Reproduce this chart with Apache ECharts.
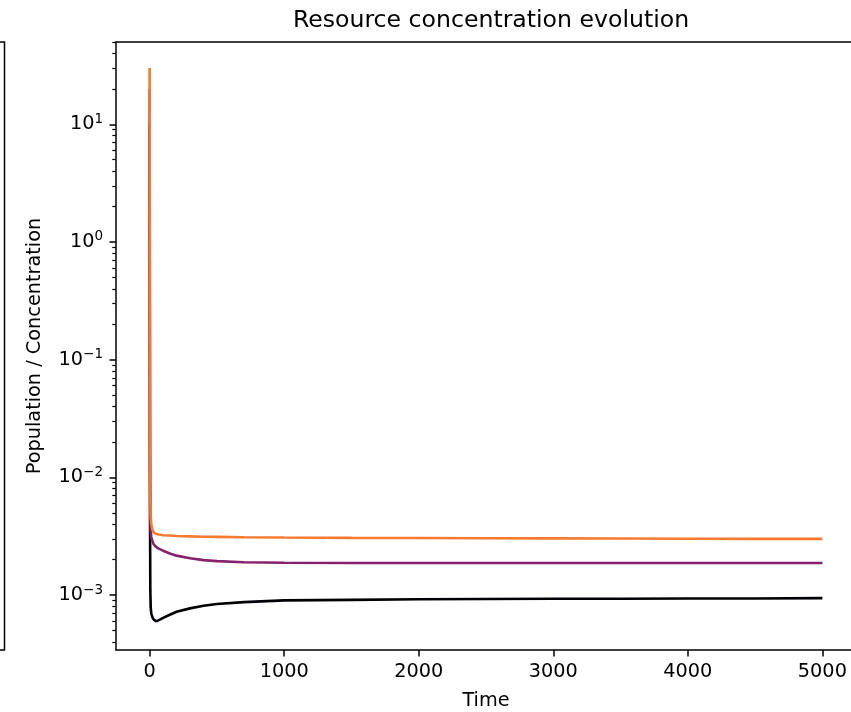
<!DOCTYPE html>
<html>
<head>
<meta charset="utf-8">
<script src="https://cdn.jsdelivr.net/npm/echarts@6/dist/echarts.min.js"></script>
<style>
html,body{margin:0;padding:0;background:#fff;}
#chart{width:851px;height:712px;}
</style>
</head>
<body>
<div id="chart"></div>
<script>
// ---- data ----
var time = [0, 0.5, 1, 2, 3, 5, 8, 12, 20, 30, 45, 60, 80, 100, 150, 200, 300, 400, 500, 700, 1000, 1500, 2000, 2500, 3000, 3500, 4000, 4500, 5000];
var resourceBlack = [10, 2, 0.3, 0.02, 0.004, 0.0011, 0.00078, 0.0007, 0.00065, 0.00062, 0.0006, 0.000605, 0.00062, 0.00064, 0.00068, 0.00072, 0.00077, 0.00081, 0.00084, 0.00087, 0.0009, 0.00091, 0.00092, 0.000925, 0.00093, 0.00093, 0.000935, 0.000935, 0.00094];
var resourcePurple = [20, 5, 1, 0.05, 0.01, 0.0045, 0.0035, 0.0031, 0.0029, 0.0027, 0.00258, 0.0025, 0.00244, 0.00238, 0.00225, 0.00216, 0.00205, 0.00198, 0.00194, 0.0019, 0.00188, 0.00187, 0.00187, 0.00187, 0.00187, 0.00187, 0.00187, 0.00187, 0.00187];
var resourceOrange = [30, 8, 1.5, 0.08, 0.015, 0.0065, 0.0047, 0.004, 0.0036, 0.0034, 0.00332, 0.00328, 0.00325, 0.00322, 0.0032, 0.00317, 0.00315, 0.00313, 0.00312, 0.0031, 0.00308, 0.00306, 0.00305, 0.00304, 0.00303, 0.00302, 0.00301, 0.003, 0.003];
var xTicks = [0, 1000, 2000, 3000, 4000, 5000];
var yMajorTicks = [0.001, 0.01, 0.1, 1, 10];
var yMinorTicks = [0.0004, 0.0005, 0.0006, 0.0007, 0.0008, 0.0009,
  0.002, 0.003, 0.004, 0.005, 0.006, 0.007, 0.008, 0.009,
  0.02, 0.03, 0.04, 0.05, 0.06, 0.07, 0.08, 0.09,
  0.2, 0.3, 0.4, 0.5, 0.6, 0.7, 0.8, 0.9,
  2, 3, 4, 5, 6, 7, 8, 9,
  20, 30, 40, 50];
var seriesNames = ['Resource 1', 'Resource 2', 'Resource 3'];
var seriesColors = ['#000004', '#86226c', '#f47b2f'];

function pairs(vals) { return time.map(function (t, i) { return [t, vals[i]]; }); }

var FONT = 'DejaVu Sans';
var FS = 19.3;
var YMIN = 3.41e-4, YMAX = 50;

var chart = echarts.init(document.getElementById('chart'), null, {renderer: 'canvas'});

function supFmt(v) {
  var e = Math.round(Math.log10(v));
  var s = e < 0 ? '\u2212' + (-e) : String(e);
  return '{b|10}{e|' + s + '}';
}

var option = {
  animation: false,
  backgroundColor: '#ffffff',
  title: {
    text: 'Resource concentration evolution',
    left: 486, top: 4, textAlign: 'center',
    textStyle: {fontFamily: FONT, fontSize: 23.6, fontWeight: 'normal', color: '#000'}
  },
  grid: {left: 116, top: 42, width: 740, height: 608, show: false, containLabel: false, outerBoundsMode: 'none'},
  xAxis: [{
    type: 'value', min: -250, max: 5250, position: 'bottom',
    name: 'Time', nameLocation: 'middle', nameGap: 41,
    nameTextStyle: {fontFamily: FONT, fontSize: FS, color: '#000'},
    axisLine: {show: true, onZero: false, lineStyle: {color: '#000', width: 1.5}},
    axisTick: {show: true, length: 6.5, lineStyle: {color: '#000', width: 1.5}, customValues: xTicks},
    axisLabel: {fontFamily: FONT, fontSize: FS, color: '#000', margin: 12, customValues: xTicks,
      formatter: function (v) { return String(v); }},
    splitLine: {show: false}
  }, {
    type: 'value', min: -250, max: 5250, position: 'top',
    axisLine: {show: true, onZero: false, lineStyle: {color: '#000', width: 1.5}},
    axisTick: {show: false}, axisLabel: {show: false}, splitLine: {show: false}
  }],
  yAxis: [{
    type: 'log', logBase: 10, min: YMIN, max: YMAX, position: 'left',
    name: 'Population / Concentration', nameLocation: 'middle', nameGap: 72, nameRotate: 90,
    nameTextStyle: {fontFamily: FONT, fontSize: FS, color: '#000'},
    axisLine: {show: true, onZero: false, lineStyle: {color: '#000', width: 1.5}},
    axisTick: {show: true, length: 6.5, lineStyle: {color: '#000', width: 1.5}, customValues: yMajorTicks},
    axisLabel: {
      color: '#000', margin: 13, customValues: yMajorTicks, formatter: supFmt,
      rich: {
        b: {fontFamily: FONT, fontSize: FS, color: '#000'},
        e: {fontFamily: FONT, fontSize: 13.5, color: '#000', padding: [0, 0, 10, 0]}
      }
    },
    splitLine: {show: false}
  }, {
    type: 'log', logBase: 10, min: YMIN, max: YMAX, position: 'left',
    axisLine: {show: false, onZero: false},
    axisTick: {show: true, length: 3.7, lineStyle: {color: '#000', width: 1.2}, customValues: yMinorTicks},
    axisLabel: {show: false}, splitLine: {show: false}
  }],
  graphic: [{
    type: 'polyline', silent: true,
    shape: {points: [[-5, 42], [4.5, 42], [4.5, 650], [-5, 650]]},
    style: {stroke: '#000', lineWidth: 1.5, fill: null}
  }],
  series: [0, 1, 2].map(function (k) {
    var vals = [resourceBlack, resourcePurple, resourceOrange][k];
    return {
      name: seriesNames[k], type: 'line', xAxisIndex: 0, yAxisIndex: 0,
      data: pairs(vals), showSymbol: false, smooth: false,
      lineStyle: {color: seriesColors[k], width: 2.6},
      itemStyle: {color: seriesColors[k]}, z: 2 + k
    };
  })
};
chart.setOption(option);
</script>
</body>
</html>
